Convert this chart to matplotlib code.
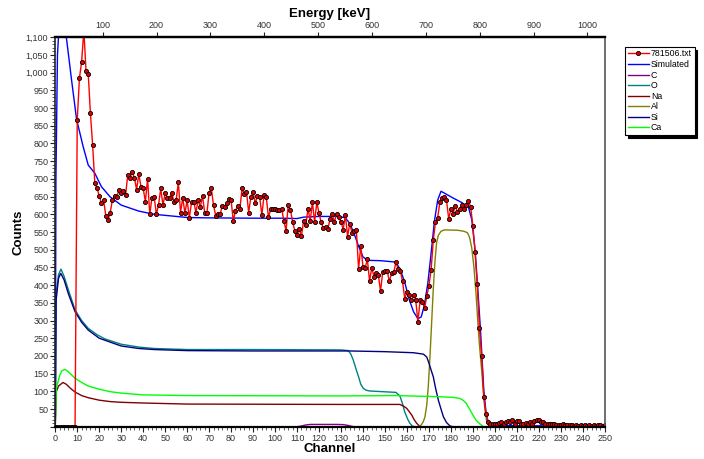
import matplotlib
matplotlib.use("Agg")
import matplotlib.pyplot as plt
from matplotlib.ticker import MultipleLocator, FuncFormatter
import numpy as np

plt.rcParams['font.family'] = ['Liberation Sans', 'DejaVu Sans']

# measured spectrum, one value per channel 0..250
counts = [
    0, 0, 0, 0, 0, 0, 0, 0, 0, 0,
    866, 985, 1031, 1120, 1005, 997, 885, 796, 689, 673,
    653, 631, 640, 596, 584, 605, 640, 652, 648, 670,
    660, 666, 655, 712, 703, 720, 703, 670, 713, 678,
    673, 636, 700, 600, 647, 650, 600, 627, 673, 625,
    660, 647, 647, 660, 636, 640, 690, 605, 647, 603,
    640, 590, 634, 636, 605, 640, 621, 652, 604, 604,
    661, 673, 626, 596, 600, 600, 624, 621, 631, 643,
    640, 581, 610, 624, 616, 673, 656, 664, 605, 649,
    664, 631, 652, 649, 598, 654, 649, 591, 615, 616,
    616, 612, 612, 616, 582, 553, 627, 612, 579, 553,
    541, 558, 538, 582, 570, 616, 581, 635, 577, 635,
    603, 577, 560, 565, 558, 586, 600, 579, 601, 591,
    579, 557, 598, 537, 574, 548, 554, 556, 445, 511,
    452, 449, 473, 411, 449, 424, 435, 428, 383, 438,
    440, 440, 411, 433, 436, 464, 445, 440, 411, 362,
    380, 371, 357, 371, 358, 296, 357, 353, 334, 368,
    398, 443, 527, 579, 590, 635, 647, 650, 640, 588,
    614, 602, 623, 607, 614, 626, 616, 626, 638, 620,
    568, 494, 402, 278, 200, 83, 37, 14, 9, 7,
    9, 7, 11, 12, 9, 14, 17, 14, 20, 8,
    16, 16, 9, 7, 11, 8, 14, 8, 16, 20,
    18, 12, 14, 9, 7, 9, 7, 7, 5, 6,
    4, 7, 5, 6, 4, 5, 3, 4, 3, 5,
    3, 4, 3, 5, 3, 4, 3, 4, 5, 3,
    4,
]
channels = np.arange(len(counts))

# simulated total
sim_ch = [0, 0.3, 1, 2, 3, 4, 5.2, 7.4, 9.7, 12.7, 15, 18, 21, 25, 30, 38, 45, 60, 68, 90,
          103, 110, 113, 120, 129, 132, 134, 136, 138, 140, 142, 148, 155, 157, 159, 161,
          163, 165, 166.5, 168, 169.5, 171, 172.5, 174, 175.5, 177, 181, 185, 188, 189.5,
          191, 192.5, 193.5, 195, 196, 197, 200, 250]
sim_ct = [0, 700, 1050, 1160, 1170, 1140, 1092, 980, 868, 791, 739, 716, 678, 649, 626, 609, 600, 591, 590, 589,
          589, 588, 592, 594, 594, 590, 574, 545, 510, 480, 470, 469, 465, 443, 408, 360,
          325, 305, 310, 345, 405, 490, 580, 640, 665, 660, 646, 633, 620, 585,
          500, 365, 270, 100, 40, 10, 3, 2]

# element contributions
c_ch = [0, 110, 112, 114, 116, 128, 131, 133, 135, 136, 250]
c_ct = [0, 0, 2, 5, 6.5, 6.5, 6, 4, 1, 0, 0]

o_ch = [0, 0.5, 1.5, 2.6, 4, 6, 9, 12, 15, 19, 22.6, 30, 38, 45, 60, 90, 130, 133.3, 134.5,
        135.6, 137, 138, 139, 140.2, 141.5, 143, 155, 156.8, 158, 159, 160.3, 161.4, 162.5, 163.5, 250]
o_ct = [0, 380, 430, 445, 425, 386, 330, 300, 278, 260, 248, 233, 225, 221, 218, 218, 217, 215, 205,
        188, 160, 141, 120, 108, 103, 101, 97, 87, 65, 42, 22, 9, 2, 0, 0]

na_ch = [0, 0.5, 1.5, 3.5, 5, 7, 9, 12, 15, 20, 25, 30, 40, 60, 130, 156.8, 158.5, 159.9, 161,
         162.2, 163.3, 164.4, 166, 250]
na_ct = [0, 100, 115, 125, 120, 108, 98, 88, 82, 75, 71, 69, 67, 64, 63, 63, 58, 52, 43,
         33, 20, 10, 0, 0]

al_ch = [0, 165.5, 166.5, 167.5, 168.2, 169, 169.7, 170.5, 171.3, 172, 172.8, 173.5, 174.3, 175.5,
         177, 183, 186, 187.5, 188.5, 189.5, 190.5, 191.5, 192.2, 193, 194, 195, 195.5, 196.3, 197, 198, 250]
al_ct = [0, 0, 5, 15, 28, 60, 112, 200, 301, 390, 470, 520, 541, 552,
         556, 555, 552, 548, 535, 505, 450, 370, 301, 230, 160, 80, 47, 15, 5, 0, 0]

si_ch = [0, 0.3, 1.5, 2.5, 4, 6, 9, 12, 15, 20, 30, 38, 45, 60, 90, 134, 150, 163, 167.5, 169,
         170, 171, 172, 173, 174.3, 175.5, 176.6, 178, 179.6, 181, 250]
si_ct = [0, 353, 420, 433, 415, 375, 325, 295, 273, 250, 228, 221, 218, 215, 214, 214, 212, 209, 205, 197,
         180, 160, 141, 110, 75, 50, 28, 12, 2, 0, 0]

ca_ch = [0, 0.5, 1, 2, 3, 4.4, 6, 9, 12, 15, 20, 25, 30, 40, 60, 130, 155, 173.5, 181, 184,
         185.5, 187, 188.5, 190, 191.5, 193.2, 194.8, 250]
ca_ct = [0, 110, 120, 145, 158, 162, 155, 137, 125, 115, 106, 99, 95, 90, 88, 87, 88, 85, 83, 80,
         75, 66, 50, 33, 18, 8, 0, 0]

fig = plt.figure(figsize=(7.04, 4.59), dpi=100)
ax = fig.add_axes([0.0785, 0.0703, 0.7805, 0.8485])

lw = 1.0
ax.plot(c_ch, c_ct, color='#800080', lw=lw, label='C')
ax.plot(o_ch, o_ct, color='#008080', lw=lw, label='O')
ax.plot(na_ch, na_ct, color='#800000', lw=lw, label='Na')
ax.plot(al_ch, al_ct, color='#808000', lw=lw, label='Al')
ax.plot(si_ch, si_ct, color='#000080', lw=lw, label='Si')
ax.plot(ca_ch, ca_ct, color='#00ff00', lw=lw, label='Ca')
ax.plot(sim_ch, sim_ct, color='#0000ff', lw=lw, label='Simulated')
ax.plot(channels, counts, color='#ff0000', lw=lw, marker='o', markersize=3.0,
        markerfacecolor='#dd0000', markeredgecolor='black', markeredgewidth=0.6,
        label='781506.txt')

ax.set_xlim(0, 250)
ax.set_ylim(0, 1100)

ax.xaxis.set_major_locator(MultipleLocator(10))
ax.xaxis.set_minor_locator(MultipleLocator(2))
ax.yaxis.set_major_locator(MultipleLocator(50))
ax.yaxis.set_minor_locator(MultipleLocator(10))
ax.yaxis.set_major_formatter(FuncFormatter(lambda v, p: '' if v == 0 else f'{int(v):,}'))

ax.tick_params(axis='both', which='major', labelsize=6.5, length=3.5, width=0.8,
               colors='#222222', labelcolor='#333333', pad=1.5)
ax.tick_params(axis='both', which='minor', length=2, width=0.6, colors='#444444')

for side in ['top', 'bottom']:
    ax.spines[side].set_linewidth(1.6)
    ax.spines[side].set_color('black')
ax.spines['left'].set_linewidth(1.2)
ax.spines['left'].set_color('#222222')
ax.spines['right'].set_linewidth(1.2)
ax.spines['right'].set_color('#555555')

ax.set_xlabel('Channel', fontsize=9.5, fontweight='bold', labelpad=0)
ax.set_ylabel('Counts', fontsize=9.5, fontweight='bold', labelpad=1)

# energy calibration for the top axis
e_off, e_gain = 12.0, 4.08
top = ax.secondary_xaxis('top', functions=(lambda c: e_off + e_gain * c,
                                           lambda e: (e - e_off) / e_gain))
top.xaxis.set_major_locator(MultipleLocator(100))
top.tick_params(axis='x', which='major', labelsize=6.5, length=3.5, width=0.8,
                colors='#222222', labelcolor='#333333', pad=1.5)
top.tick_params(axis='x', which='minor', length=0)
top.set_xlabel('Energy [keV]', fontsize=9.5, fontweight='bold', labelpad=3)
top.spines['top'].set_linewidth(1.6)

handles, labels = ax.get_legend_handles_labels()
order = ['781506.txt', 'Simulated', 'C', 'O', 'Na', 'Al', 'Si', 'Ca']
hmap = dict(zip(labels, handles))
leg = fig.legend([hmap[k] for k in order], order, loc='upper left',
                 bbox_to_anchor=(0.888, 0.898), fontsize=6.3, frameon=True,
                 fancybox=False, shadow={'color': 'black', 'alpha': 1.0},
                 handlelength=2.4, handletextpad=0.25, borderpad=0.3,
                 labelspacing=0.18, borderaxespad=0)
leg.get_frame().set_edgecolor('black')
leg.get_frame().set_linewidth(0.8)
for h in leg.legend_handles:
    h.set_markersize(3.0)

fig.savefig('out.png', dpi=100)
